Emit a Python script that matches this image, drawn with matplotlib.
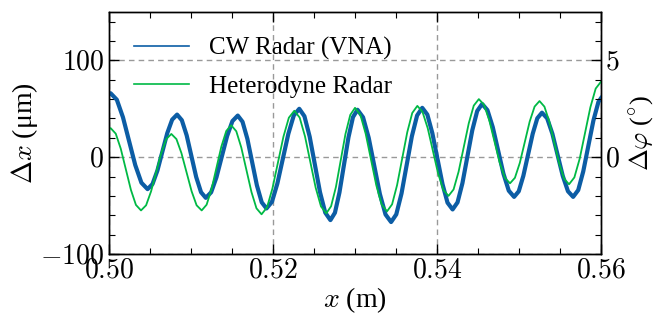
import matplotlib
matplotlib.use('Agg')
import matplotlib.pyplot as plt
from matplotlib.ticker import MultipleLocator, FixedLocator, FuncFormatter

# Werte
x_cw = [0.5000, 0.5002, 0.50095, 0.5017, 0.50245, 0.5032, 0.50395,
        0.5047, 0.5053, 0.5059, 0.5065, 0.5071, 0.5077,
        0.5083, 0.50888, 0.50947, 0.51005, 0.51063, 0.51122,
        0.5118, 0.51245, 0.5131, 0.51375, 0.5144, 0.51505,
        0.5157, 0.51628, 0.51687, 0.51745, 0.51803, 0.51862,
        0.5192, 0.51987, 0.52053, 0.5212, 0.52187, 0.52253,
        0.5232, 0.52383, 0.52447, 0.5251, 0.52573, 0.52637,
        0.5270, 0.52755, 0.5281, 0.52865, 0.5292, 0.52975,
        0.5303, 0.53098, 0.53167, 0.53235, 0.53303, 0.53372,
        0.5344, 0.53503, 0.53567, 0.5363, 0.53693, 0.53757,
        0.5382, 0.53882, 0.53943, 0.54005, 0.54067, 0.54128,
        0.5419, 0.5425, 0.5431, 0.5437, 0.5443, 0.5449,
        0.5455, 0.54615, 0.5468, 0.54745, 0.5481, 0.54875,
        0.5494, 0.54997, 0.55053, 0.5511, 0.55167, 0.55223,
        0.5528, 0.55343, 0.55407, 0.5547, 0.55533, 0.55597,
        0.5566, 0.55722, 0.55783, 0.55845, 0.55907, 0.55968, 0.5600]
y_cw = [66, 66, 59.4, 41.2, 16.5, -8.2, -26.4,
        -33, -27.8, -13.8, 5.5, 24.8, 38.8,
        44, 38.2, 22.5, 1, -20.5, -36.2,
        -42, -36.3, -20.8, 0.5, 21.8, 37.3,
        43, 36.6, 19, -5, -29, -46.6,
        -53, -46.1, -27.2, -1.5, 24.2, 43.1,
        50, 42.3, 21.2, -7.5, -36.2, -57.3,
        -65, -57.4, -36.5, -8, 20.5, 41.4,
        49, 41.2, 20, -9, -38, -59.2,
        -67, -59.1, -37.5, -8, 21.5, 43.1,
        51, 44, 24.8, -1.5, -27.8, -47,
        -54, -46.7, -26.8, 0.5, 27.8, 47.7,
        55, 48.6, 31, 7, -17, -34.6,
        -41, -35.2, -19.2, 2.5, 24.2, 40.2,
        46, 40.2, 24.2, 2.5, -19.2, -35.2,
        -41, -34, -14.8, 11.5, 37.8, 57, 61]

x_het = [0.5000, 0.5002, 0.50082, 0.50143, 0.50205, 0.50267, 0.50328,
         0.5039, 0.50452, 0.50513, 0.50575, 0.50637, 0.50698,
         0.5076, 0.50822, 0.50883, 0.50945, 0.51007, 0.51068,
         0.5113, 0.5119, 0.5125, 0.5131, 0.5137, 0.5143,
         0.5149, 0.51552, 0.51613, 0.51675, 0.51737, 0.51798,
         0.5186, 0.51927, 0.51993, 0.5206, 0.52127, 0.52193,
         0.5226, 0.52325, 0.5239, 0.52455, 0.5252, 0.52585,
         0.5265, 0.52708, 0.52767, 0.52825, 0.52883, 0.52942,
         0.5300, 0.53065, 0.5313, 0.53195, 0.5326, 0.53325,
         0.5339, 0.53452, 0.53513, 0.53575, 0.53637, 0.53698,
         0.5376, 0.53823, 0.53887, 0.5395, 0.54013, 0.54077,
         0.5414, 0.54202, 0.54263, 0.54325, 0.54387, 0.54448,
         0.5451, 0.54573, 0.54637, 0.5470, 0.54763, 0.54827,
         0.5489, 0.5495, 0.5501, 0.5507, 0.5513, 0.5519,
         0.5525, 0.5531, 0.5537, 0.5543, 0.5549, 0.5555,
         0.5561, 0.55675, 0.5574, 0.55805, 0.5587, 0.55935, 0.5600]
y_het = [29, 30, 24.3, 8.8, -12.5, -33.8, -49.3,
         -55, -49.7, -35.2, -15.5, 4.2, 18.7,
         24, 18.7, 4.2, -15.5, -35.2, -49.7,
         -55, -49.1, -33, -11, 11, 27.1,
         33, 26.8, 10, -13, -36, -52.8,
         -59, -51.8, -32.2, -5.5, 21.2, 40.8,
         48, 40.9, 21.5, -5, -31.5, -50.9,
         -58, -50.7, -30.8, -3.5, 23.8, 43.7,
         51, 43.8, 24.2, -2.5, -29.2, -48.8,
         -56, -48.7, -28.8, -1.5, 25.8, 45.7,
         53, 46.8, 29.8, 6.5, -16.8, -33.8,
         -40, -33.3, -15, 10, 35, 53.3,
         60, 54.2, 38.2, 16.5, -5.2, -21.2,
         -27, -21.3, -5.8, 15.5, 36.8, 52.3,
         58, 52.2, 36.5, 15, -6.5, -22.2,
         -28, -20.9, -1.5, 25, 51.5, 70.9, 78]

plt.rcParams['font.family'] = 'serif'
plt.rcParams['font.serif'] = ['Liberation Serif', 'DejaVu Serif']
plt.rcParams['mathtext.fontset'] = 'cm'
plt.rcParams['font.size'] = 20
plt.rcParams['axes.linewidth'] = 1.0

fig = plt.figure(figsize=(6.58, 3.2), dpi=100)
ax = fig.add_axes([0.1657, 0.2063, 0.7477, 0.7562])

ax.plot(x_cw, y_cw, color='#0C5DA5', lw=3.0, label='CW Radar (VNA)', zorder=3)
ax.plot(x_het, y_het, color='#00B945', lw=1.3, label='Heterodyne Radar', zorder=4)

ax.set_xlim(0.50, 0.56)
ax.set_ylim(-100, 150)
ax.xaxis.set_major_locator(MultipleLocator(0.02))
ax.xaxis.set_minor_locator(MultipleLocator(0.005))
ax.yaxis.set_major_locator(MultipleLocator(100))
ax.yaxis.set_minor_locator(MultipleLocator(20))
ax.xaxis.set_major_formatter(FuncFormatter(lambda v, p: f'${v:.2f}$'))
ax.yaxis.set_major_formatter(FuncFormatter(lambda v, p: f'${v:.0f}$'))
ax.tick_params(which='both', direction='in', top=True, right=False, labelsize=20)
ax.tick_params(which='major', length=7, width=1)
ax.tick_params(which='minor', length=4, width=0.8)
ax.grid(True, which='major', ls='--', color='#999999', lw=1.0, dashes=(4, 3))

ax.set_xlabel(r'$x$ (m)', fontsize=20, labelpad=1)
ax.set_ylabel(r'$\Delta x$ (μm)', fontsize=20, labelpad=0)

ax2 = ax.twinx()
ax2.set_ylim(-5, 7.5)
ax2.yaxis.set_major_locator(FixedLocator([0, 5]))
ax2.yaxis.set_minor_locator(MultipleLocator(1))
ax2.yaxis.set_major_formatter(FuncFormatter(lambda v, p: f'${v:.0f}$'))
ax2.tick_params(which='both', direction='in', labelsize=20, pad=3)
ax2.tick_params(which='major', length=7, width=1)
ax2.tick_params(which='minor', length=4, width=0.8)
ax2.set_ylabel(r'$\Delta \varphi$ ($^{\circ}$)', fontsize=19, labelpad=5)

leg = ax.legend(loc='upper left', frameon=False, fontsize=18, handlelength=2.2,
                borderaxespad=0.6, labelspacing=0.6, borderpad=0.4)
for h in leg.get_lines():
    h.set_linewidth(1.2)

fig.savefig('out.png', dpi=100)
